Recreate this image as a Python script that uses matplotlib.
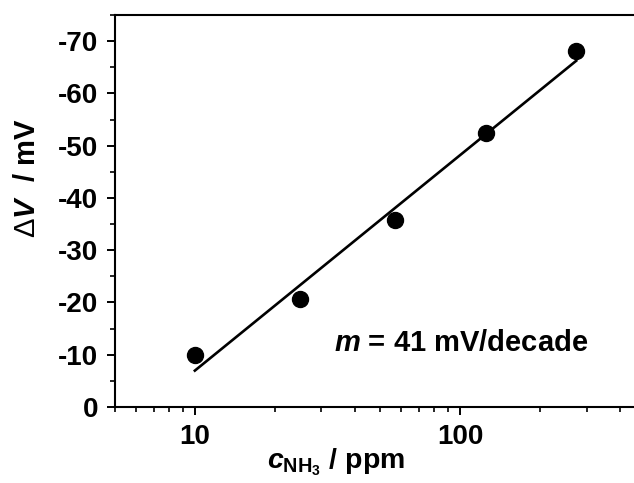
import numpy as np
import matplotlib
matplotlib.use('Agg')
import matplotlib.pyplot as plt

# 数据
conc_ppm = [10, 25, 57, 125, 274]
delta_v = [-10.0, -20.7, -35.7, -52.4, -68.1]
slope_text = '41 mV/decade'

plt.rcParams['font.family'] = ['Liberation Sans', 'DejaVu Sans']
plt.rcParams['font.weight'] = 'bold'
plt.rcParams['axes.unicode_minus'] = False
plt.rcParams['mathtext.fontset'] = 'custom'
plt.rcParams['mathtext.rm'] = 'Liberation Sans:bold'
plt.rcParams['mathtext.it'] = 'Liberation Sans:bold:italic'
plt.rcParams['mathtext.bf'] = 'Liberation Sans:bold'

fig = plt.figure(figsize=(6.34, 4.83), dpi=100)
ax = fig.add_axes([0.1814, 0.1573, 0.8176, 0.8116])

# 线性拟合（对数坐标）
logx = np.log10(conc_ppm)
k, b = np.polyfit(logx, delta_v, 1)
xfit = np.array([conc_ppm[0], conc_ppm[-1]])
ax.plot(xfit, k * np.log10(xfit) + b, color='black', lw=1.9, zorder=2)
ax.plot(conc_ppm, delta_v, 'o', color='black', ms=11.5, zorder=3)

ax.set_xscale('log')
ax.set_xlim(5, 450)
ax.set_ylim(0, -75)
ax.set_yticks(np.arange(0, -71, -10))
ax.set_yticks(np.arange(-5, -76, -10), minor=True)
ax.set_xticks([10, 100])
ax.set_xticklabels(['10', '100'])
ax.xaxis.set_minor_formatter(matplotlib.ticker.NullFormatter())

for s in ['left', 'bottom', 'top']:
    ax.spines[s].set_linewidth(1.5)
ax.spines['right'].set_visible(False)
ax.tick_params(which='major', direction='out', length=6, width=1.4,
               labelsize=20, pad=6)
ax.tick_params(which='minor', direction='out', length=3.5, width=1.2)
ax.tick_params(top=False, right=False, which='both')

# Δ 用常规字重，其余加粗
ax.set_ylabel(r'Δ$\mathit{V}$$\mathrm{\ \ /\ mV}$', fontsize=21, fontweight='normal')
ax.yaxis.set_label_coords(-0.142, 0.585)
ax.set_xlabel(r'$\mathit{c}_{\mathrm{NH_3}}$ / ppm', fontsize=20.5, fontweight='bold')
ax.xaxis.set_label_coords(0.426, -0.1)

ax.text(0.668, 0.163, r'$\mathit{m}$ = ' + slope_text, transform=ax.transAxes,
        ha='center', va='center', fontsize=21, fontweight='bold')

fig.savefig('out.png', dpi=100)
